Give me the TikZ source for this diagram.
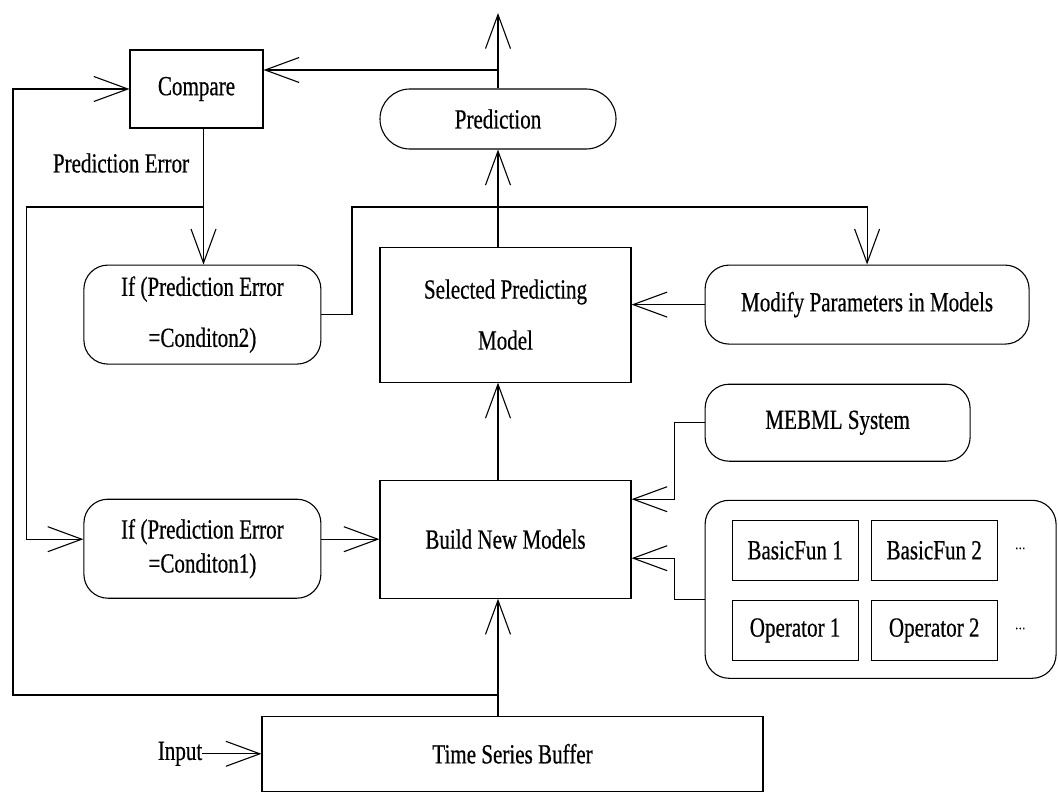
\documentclass[tikz,border=0pt]{standalone}
\usepackage{fontspec}
\setmainfont{Liberation Serif}[FakeStretch=0.76, FakeBold=0.5]
\usepackage{tikz}
\usetikzlibrary{arrows.meta,positioning}
\tikzstyle{box} = [rectangle, draw=black, line width=1.1pt, text=black, text centered, inner sep=2pt]
\tikzstyle{rbox} = [rectangle, rounded corners=24pt, draw=black, line width=1.1pt, text=black, text centered, inner sep=2pt]
\tikzstyle{txt} = [text=black, inner sep=0pt]
\tikzstyle{tedge}  = [draw, line width=1.1pt, >={Straight Barb[length=34pt, width=25pt]}, ->]

\begin{document}
\begin{tikzpicture}[x=1pt, y=-1pt, font=\fontsize{27.7}{33}\selectfont]
\path[use as bounding box, fill=white] (0,0) rectangle (1058,792);

% boxes =============================

% prediction loop
\node[rbox, rounded corners=30pt, minimum width=236pt, minimum height=60pt] (prediction) at (498,119) {Prediction};
\node[box, minimum width=133pt, minimum height=78pt] (compare) at (196.5,89) {Compare};
\node[txt] (prederr) at (121,163) {Prediction Error};

% models
\node[box, minimum width=251pt, minimum height=135pt, align=center, font=\fontsize{27.7}{51}\selectfont, below=97pt of prediction, xshift=7.5pt] (spm) {Selected Predicting\\Model};
\node[box, minimum width=251pt, minimum height=118pt, below=97pt of spm] (bnm) {Build New Models};
\node[box, minimum width=501pt, minimum height=75pt, below=117pt of bnm, xshift=7pt] (tsb) {Time Series Buffer};
\node[txt, left=59pt of tsb] (input) {Input};

% conditions
\node[rbox, minimum width=237pt, minimum height=99pt, align=center, font=\fontsize{27.7}{51}\selectfont, left=58pt of spm] (if2) {If (Prediction Error\\=Conditon2)};
\node[rbox, minimum width=237pt, minimum height=99pt, align=center, font=\fontsize{27.7}{34}\selectfont, left=58pt of bnm, yshift=-9.5pt] (if1) {If (Prediction Error\\=Conditon1)};

% right side
\node[rbox, minimum width=324pt, minimum height=79pt, right=73pt of spm, yshift=10pt] (modify) {Modify Parameters in Models};
\node[rbox, minimum width=265pt, minimum height=77pt, below=39pt of modify.south west, anchor=north west] (mebml) {MEBML System};
\node[rbox, minimum width=351pt, minimum height=178pt, below=38pt of mebml.south west, anchor=north west] (group) {};

% functions and operators
\node[box, minimum width=126pt, minimum height=60pt, below right=20pt and 27pt of group.north west, anchor=north west] (bf1) {BasicFun 1};
\node[box, minimum width=126pt, minimum height=60pt, right=12pt of bf1] (bf2) {BasicFun 2};
\node[box, minimum width=126pt, minimum height=60pt, below=19pt of bf1] (op1) {Operator 1};
\node[box, minimum width=126pt, minimum height=60pt, right=12pt of op1] (op2) {Operator 2};
\node[txt, font=\fontsize{14}{16}\selectfont, right=17pt of bf2] (dots1) {···};
\node[txt, font=\fontsize{14}{16}\selectfont, right=17pt of op2] (dots2) {···};

% turning points
\coordinate (top) at (498,13);
\coordinate (tapP) at (498,70);
\coordinate (turn) at (352,207);
\coordinate (tapT) at (498,695);
\coordinate (down) at ([xshift=7pt]compare.south);

%edges
\path[tedge] (prediction.north) -- (top);
\path[tedge] (tapP) -- (tapP -| compare.east);
\path[tedge] (spm.north -| prediction.south) -- (prediction.south);
\path[tedge] (bnm.north -| prediction.south) -- (spm.south -| prediction.south);
\path[tedge] (tsb.north -| prediction.south) -- (bnm.south -| prediction.south);
\path[tedge] (tapT) -- ++(-485,0) |- (compare.west);

\path[tedge] (down) -- (down |- if2.north);
\path[tedge] (down |- turn) -- ++(-177,0) |- (if1.west |- bnm.west);
\path[tedge] (if1.east |- bnm.west) -- (bnm.west);
\path[tedge] (if2.east) -- (if2.east -| turn) |- (modify.north |- turn) -- (modify.north);
\path[tedge] (modify.west) -- (modify.west -| spm.east);

\path[tedge] (mebml.west) -- ++(-30,0) |- ([yshift=40pt]bnm.east);
\path[tedge] ([yshift=-10pt]group.west) -- ++(-30,0) |- ([yshift=-19pt]bnm.east);
\path[tedge] (input.east) -- (input.east -| tsb.west);

\end{tikzpicture}
\end{document}
